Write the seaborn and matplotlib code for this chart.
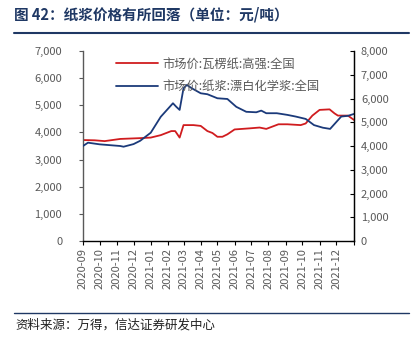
import matplotlib
matplotlib.use("Agg")
import matplotlib.pyplot as plt
import matplotlib.dates as mdates
from matplotlib.lines import Line2D
from matplotlib.ticker import FuncFormatter, MultipleLocator
import seaborn as sns
import pandas as pd

# ---------------- data ----------------
red_dates = ["2020-09-01", "2020-09-22", "2020-10-10", "2020-11-07", "2020-12-13", "2021-01-01",
             "2021-01-19", "2021-02-07", "2021-02-14", "2021-02-22", "2021-03-01", "2021-03-19",
             "2021-04-01", "2021-04-13", "2021-04-22", "2021-05-01", "2021-05-10", "2021-05-19",
             "2021-06-01", "2021-06-28", "2021-07-16", "2021-07-28", "2021-08-19", "2021-09-04",
             "2021-09-28", "2021-10-07", "2021-10-19", "2021-11-01", "2021-11-19", "2021-11-28",
             "2021-12-04", "2021-12-22", "2022-01-02"]
red_values = [3720, 3710, 3680, 3760, 3790, 3810,
              3900, 4050, 4050, 3810, 4270, 4270,
              4240, 4050, 3980, 3840, 3840, 3930,
              4110, 4150, 4180, 4130, 4300, 4300,
              4270, 4330, 4620, 4830, 4850, 4700,
              4620, 4620, 4460]

blue_dates = ["2020-09-01", "2020-09-10", "2020-10-01", "2020-11-07", "2020-11-13", "2020-12-01",
              "2020-12-13", "2021-01-01", "2021-01-19", "2021-02-10", "2021-02-16", "2021-02-22",
              "2021-03-01", "2021-03-07", "2021-03-16", "2021-04-01", "2021-04-13", "2021-05-01",
              "2021-05-19", "2021-06-04", "2021-06-22", "2021-07-10", "2021-07-19", "2021-07-28",
              "2021-08-16", "2021-09-04", "2021-09-19", "2021-10-07", "2021-10-22", "2021-11-07",
              "2021-11-20", "2021-12-10", "2021-12-22", "2022-01-02"]
blue_values = [4000, 4140, 4070, 4000, 3970, 4080,
               4220, 4560, 5230, 5800, 5650, 5520,
               6430, 6570, 6430, 6220, 6180, 6010,
               5980, 5650, 5440, 5420, 5490, 5380,
               5380, 5310, 5240, 5140, 4880, 4770,
               4720, 5240, 5270, 5350]

red_label = "市场价:瓦楞纸:高强:全国"
blue_label = "市场价:纸浆:漂白化学浆:全国"
title_text = "图 42：纸浆价格有所回落（单位：元/吨）"
source_text = "资料来源：万得，信达证券研发中心"
month_ticks = ["2020-09", "2020-10", "2020-11", "2020-12", "2021-01", "2021-02", "2021-03",
               "2021-04", "2021-05", "2021-06", "2021-07", "2021-08", "2021-09", "2021-10",
               "2021-11", "2021-12"]

# ---------------- styling ----------------
sns.set_style("white")
plt.rcParams["font.family"] = ["Noto Sans CJK SC", "DejaVu Sans"]

RED = "#D01C1F"
BLUE = "#1B3A7A"
GRAY = "#595959"

df_red = pd.DataFrame({"date": pd.to_datetime(red_dates), "value": red_values})
df_blue = pd.DataFrame({"date": pd.to_datetime(blue_dates), "value": blue_values})

fig = plt.figure(figsize=(4.19, 3.39), dpi=100)
ax = fig.add_axes([83 / 419, 1 - 241 / 339, (354 - 83) / 419, (241 - 51) / 339])
ax2 = ax.twinx()

sns.lineplot(data=df_red, x="date", y="value", ax=ax, color=RED, linewidth=1.3)
sns.lineplot(data=df_blue, x="date", y="value", ax=ax2, color=BLUE, linewidth=1.3)

xmin = pd.Timestamp("2020-09-01")
xmax = pd.Timestamp("2022-01-02")
ax.set_xlim(xmin, xmax)
ax.set_ylim(0, 7000)
ax2.set_ylim(0, 8000)
ax.yaxis.set_major_locator(MultipleLocator(1000))
ax2.yaxis.set_major_locator(MultipleLocator(1000))
fmt = FuncFormatter(lambda v, p: f"{int(v):,}")
ax.yaxis.set_major_formatter(fmt)
ax2.yaxis.set_major_formatter(fmt)

tick_pos = [pd.Timestamp(m + "-01") for m in month_ticks] + [xmax]
ax.set_xticks(tick_pos)
ax.set_xticklabels(month_ticks + [""], rotation=90, fontsize=8, color=GRAY)

for a in (ax, ax2):
    a.set_xlabel("")
    a.set_ylabel("")
    a.spines["top"].set_visible(False)

ax.spines["left"].set_color(GRAY)
ax.spines["bottom"].set_color("black")
ax2.spines["right"].set_color("black")
ax2.spines["left"].set_visible(False)
ax2.spines["bottom"].set_visible(False)
for s in ("left", "bottom"):
    ax.spines[s].set_linewidth(1.0)
ax2.spines["right"].set_linewidth(1.0)

ax.tick_params(axis="y", which="major", direction="out", length=3, color=GRAY,
               labelsize=8, labelcolor=GRAY, pad=12, left=True)
ax.tick_params(axis="x", which="major", direction="out", length=3, color="black",
               labelsize=8, labelcolor=GRAY, pad=2, bottom=True)
ax2.tick_params(axis="y", which="major", direction="in", length=3, color="black",
                labelsize=8, labelcolor=GRAY, pad=5, right=True)

handles = [Line2D([], [], color=RED, linewidth=1.3), Line2D([], [], color=BLUE, linewidth=1.3)]
leg = ax2.legend(handles, [red_label, blue_label], loc="upper left",
                 bbox_to_anchor=(0.09, 1.01), frameon=False, fontsize=8.8,
                 handlelength=3.4, handletextpad=0.4, labelspacing=0.75, borderaxespad=0.3)
for t in leg.get_texts():
    t.set_color(GRAY)

# title, rules and source
fig.text(14 / 419, 1 - 15 / 339, title_text, fontsize=10.5, fontweight="bold",
         color="#1F3864", ha="left", va="center")
fig.add_artist(Line2D([14 / 419, 409 / 419], [1 - 33 / 339, 1 - 33 / 339],
                      color="#1F3864", linewidth=1.5))
fig.add_artist(Line2D([14 / 419, 409 / 419], [1 - 312.5 / 339, 1 - 312.5 / 339],
                      color="#1F3864", linewidth=1.0))
fig.text(15 / 419, 1 - 325 / 339, source_text, fontsize=9, style="italic",
         color="#222222", ha="left", va="center")

fig.savefig("out.png", dpi=100)
